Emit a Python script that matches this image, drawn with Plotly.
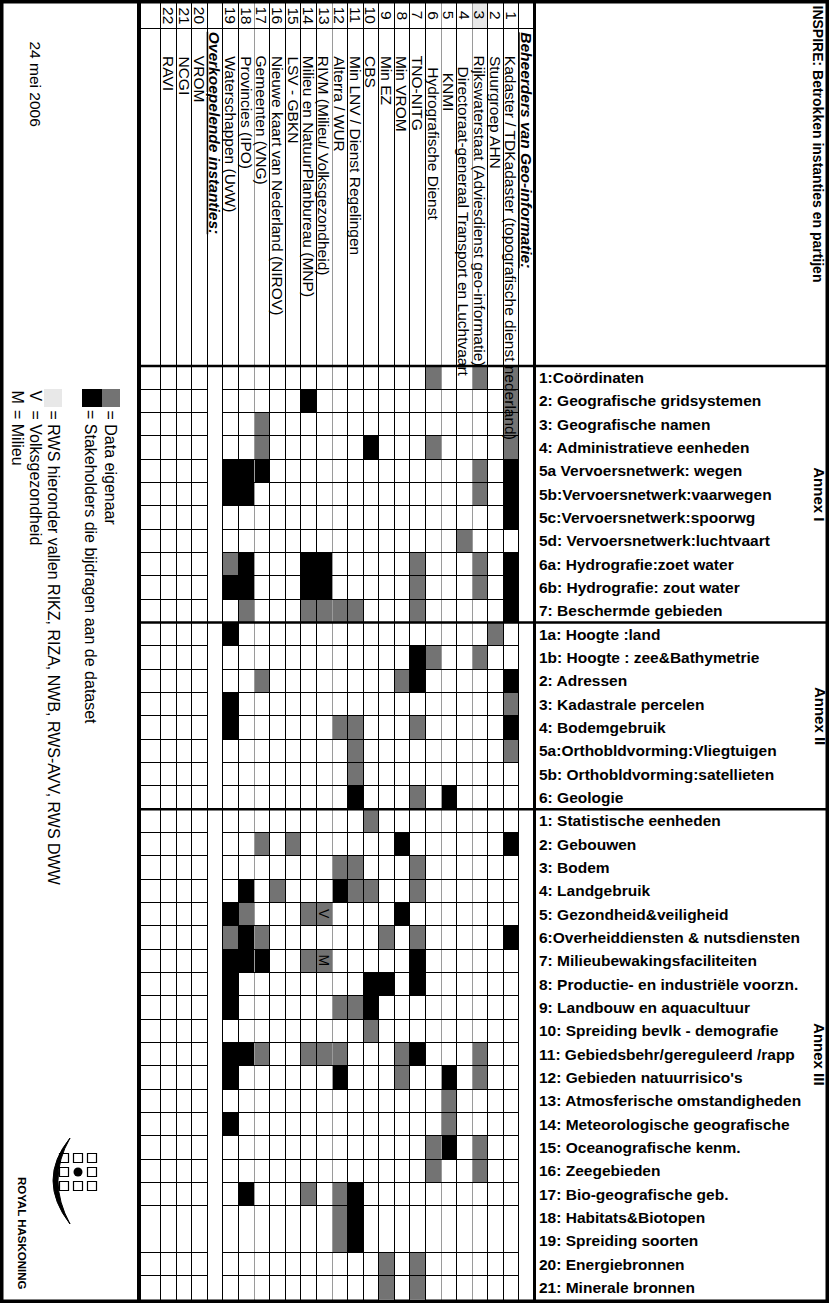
import plotly.graph_objects as go

# ---------------- data ----------------
ORG_NUMBERS = list(range(1, 23))
ORG_NAMES = [
    "Kadaster / TDKadaster (topografische dienst nederland)",
    "Stuurgroep AHN",
    "Rijkswaterstaat (Adviesdienst geo-informatie)",
    "Directoraat-generaal Transport en Luchtvaart",
    "KNMI",
    "Hydrografische Dienst",
    "TNO-NITG",
    "Min VROM",
    "Min EZ",
    "CBS",
    "Min LNV / Dienst Regelingen",
    "Alterra / WUR",
    "RIVM (Milieu/ Volksgezondheid)",
    "Milieu en NatuurPlanbureau (MNP)",
    "LSV - GBKN",
    "Nieuwe kaart van Nederland (NIROV)",
    "Gemeenten (VNG)",
    "Provincies (IPO)",
    "Waterschappen (UvW)",
    "VROM",
    "NCGI",
    "RAVI",
]
GROUP_BEHEERDERS = "Beheerders van Geo-informatie:"
GROUP_OVERKOEPELEND = "Overkoepelende instanties:"
COLUMN_ORDER = ["", 22, 21, 20, GROUP_OVERKOEPELEND, 19, 18, 17, 16, 15, 14, 13, 12,
                11, 10, 9, 8, 7, 6, 5, 4, 3, 2, 1, GROUP_BEHEERDERS]
INDENTED_ORGS = [4, 5, 6]
RWS_ORG = 3

TITLE = "INSPIRE: Betrokken instanties en partijen"
DATE = "24 mei 2006"

ANNEXES = ["Annex I", "Annex II", "Annex III"]
THEMES_ANNEX_I = [
    "1:Coördinaten",
    "2: Geografische gridsystemen",
    "3: Geografische namen",
    "4: Administratieve eenheden",
    "5a Vervoersnetwerk: wegen",
    "5b:Vervoersnetwerk:vaarwegen",
    "5c:Vervoersnetwerk:spoorwg",
    "5d: Vervoersnetwerk:luchtvaart",
    "6a: Hydrografie:zoet water",
    "6b: Hydrografie: zout water",
    "7: Beschermde gebieden",
]
THEMES_ANNEX_II = [
    "1a: Hoogte :land",
    "1b: Hoogte : zee&Bathymetrie",
    "2: Adressen",
    "3: Kadastrale percelen",
    "4: Bodemgebruik",
    "5a:Orthobldvorming:Vliegtuigen",
    "5b: Orthobldvorming:satellieten",
    "6: Geologie",
]
THEMES_ANNEX_III = [
    "1: Statistische eenheden",
    "2: Gebouwen",
    "3: Bodem",
    "4: Landgebruik",
    "5: Gezondheid&veiligheid",
    "6:Overheiddiensten & nutsdiensten",
    "7: Milieubewakingsfaciliteiten",
    "8: Productie- en industriële voorzn.",
    "9: Landbouw en aquacultuur",
    "10: Spreiding bevlk - demografie",
    "11: Gebiedsbehr/gereguleerd /rapp",
    "12: Gebieden natuurrisico's",
    "13: Atmosferische omstandigheden",
    "14: Meteorologische geografische",
    "15: Oceanografische kenm.",
    "16: Zeegebieden",
    "17: Bio-geografische geb.",
    "18: Habitats&Biotopen",
    "19: Spreiding soorten",
    "20: Energiebronnen",
    "21: Minerale bronnen",
]

# organisation numbers with a black cell, per theme (same order as themes)
BLACK = [
    [], [14], [], [10], [19, 18, 17, 1], [19, 18, 1], [1], [],
    [18, 14, 13, 1], [19, 18, 14, 13, 1], [1],
    [19], [7], [7, 1], [19], [19, 1], [], [], [11, 5],
    [], [8, 1], [], [18, 12], [19, 8], [18, 1], [19, 18, 17, 7], [19, 10, 9, 7],
    [19, 10], [], [19, 18, 7], [19, 12, 5], [], [19], [5], [], [18, 11], [11], [11], [], [],
]
# organisation numbers with a grey cell, per theme
GREY = [
    [6, 3, 1], [1], [17, 1], [17, 6, 1], [3], [3], [], [4],
    [19, 7, 3], [7, 3], [18, 14, 13, 12, 11, 7],
    [2], [6, 3], [17, 8], [1], [12, 11, 7], [11, 1], [11], [7],
    [10], [17, 15], [12, 11, 7], [16, 11, 10, 7], [18, 14, 13], [19, 17, 9, 7], [14, 13], [],
    [12, 11], [10], [17, 14, 13, 12, 8, 3], [8, 3], [5], [5], [6, 3], [6, 3], [14, 12], [12], [12], [9, 7], [9, 7],
]
NOTES = [("V", "5: Gezondheid&veiligheid", 13), ("M", "7: Milieubewakingsfaciliteiten", 13)]

LEGEND_ITEMS = [
    "= Data eigenaar",
    "= Stakeholders die bijdragen aan de dataset",
    "= RWS hieronder vallen RIKZ, RIZA, NWB, RWS-AVV, RWS DWW",
]
NOTE_LEGEND = [("V", "= Volksgezondheid"), ("M", "= Milieu")]
LOGO_TEXT = "ROYAL HASKONING"

# ---------------- style / geometry ----------------
W, H = 829, 1303
GREY_C = "#737373"
LIGHT_C = "#e8e8e8"
FONT = "Liberation Sans, Arial, sans-serif"
GRID_X1, GRID_X2 = 160.7, 534.5      # pixel span of columns 1..24
GRID_Y1, GRID_Y2 = 366.0, 1299.0     # pixel span of theme rows

THEMES = THEMES_ANNEX_I + THEMES_ANNEX_II + THEMES_ANNEX_III
NCOL = len(COLUMN_ORDER)
NROW = len(THEMES)
CW = (GRID_X2 - GRID_X1) / (NCOL - 1)
RH = (GRID_Y2 - GRID_Y1) / NROW


def dx(p):
    return 0.5 + (p - GRID_X1) / CW


def dy(p):
    return (p - GRID_Y1) / RH - 0.5


def px(p):
    return p / W


def py(p):
    return 1 - p / H


def snap(p):
    return round(p - 0.5) + 0.5


# ---------------- matrix ----------------
z = [[0] * NCOL for _ in range(NROW)]
for i in range(NROW):
    for n in GREY[i]:
        z[i][COLUMN_ORDER.index(n)] = 1
    for n in BLACK[i]:
        z[i][COLUMN_ORDER.index(n)] = 2

fig = go.Figure()
fig.add_trace(go.Heatmap(
    z=z, x=list(range(NCOL)), y=list(range(NROW)),
    colorscale=[[0, "#ffffff"], [0.5, GREY_C], [1, "#000000"]],
    zmin=0, zmax=2, showscale=False, hoverinfo="skip",
))

shapes = []
annotations = []


def line(x0, y0, x1, y1, color="#000000", width=1, ref="data"):
    r = ("x", "y") if ref == "data" else ("paper", "paper")
    shapes.append(dict(type="line", xref=r[0], yref=r[1], x0=x0, y0=y0, x1=x1, y1=y1,
                       line=dict(color=color, width=width), layer="above"))


def text(t, x, y, size=16, angle=0, xanchor="center", yanchor="middle", ref="data",
         color="#000000", family=FONT):
    annotations.append(dict(
        text=t, x=x, y=y, xref="x" if ref == "data" else "paper", yref="y" if ref == "data" else "paper",
        showarrow=False, textangle=angle, xanchor=xanchor, yanchor=yanchor, borderpad=0,
        font=dict(family=family, size=size, color=color)))


# header light-grey number cell for RWS
k_rws = COLUMN_ORDER.index(RWS_ORG)
shapes.append(dict(type="rect", xref="x", yref="y", x0=k_rws - 0.5, x1=k_rws + 0.5,
                   y0=dy(3), y1=dy(28), fillcolor=LIGHT_C, line=dict(width=0), layer="below"))

# vertical column lines
light_bounds = {7, 12, 19, 21}
for b in range(1, NCOL):
    xp = snap(GRID_X1 + (b - 1) * CW)
    line(dx(xp), dy(2), dx(xp), dy(1300), color="#9a9a9a" if b in light_bounds else "#000000")
# thick line between grid and theme panel
line(dx(GRID_X2), dy(0), dx(GRID_X2), dy(H), width=3)

# horizontal row lines
k_ovk = COLUMN_ORDER.index(GROUP_OVERKOEPELEND)
annex_breaks = [len(THEMES_ANNEX_I), len(THEMES_ANNEX_I) + len(THEMES_ANNEX_II)]
merged = {THEMES.index("19: Spreiding soorten")}
for i in range(1, NROW):
    if i in annex_breaks or i in merged:
        continue
    yp = snap(GRID_Y1 + i * RH)
    line(dx(140), dy(yp), k_ovk - 0.5, dy(yp))
    line(k_ovk + 0.5, dy(yp), NCOL - 1.5, dy(yp))
for i in annex_breaks:
    yp = GRID_Y1 + i * RH
    line(dx(140), dy(yp), dx(W), dy(yp), width=2.5)
line(dx(140), dy(GRID_Y1), dx(W), dy(GRID_Y1), width=2.5)
line(dx(140), dy(28.5), dx(GRID_X2), dy(28.5))

# left panel separator and outer border
line(px(139), 0, px(139), 1, width=4, ref="paper")
shapes.append(dict(type="rect", xref="paper", yref="paper", x0=0, y0=0, x1=1, y1=1,
                   line=dict(color="#000000", width=7), fillcolor="rgba(0,0,0,0)", layer="above"))

# column headers
for k, item in enumerate(COLUMN_ORDER):
    if isinstance(item, int):
        name = ORG_NAMES[ORG_NUMBERS.index(item)]
        start = 66 if item in INDENTED_ORGS else 55
        if item == 5:
            start = 72
        text(str(item), k, dy(15.5), size=15.5, angle=90)
        text(name, k, dy(start), size=15.5, angle=90, yanchor="top")
    elif item:
        text("<b><i><u>" + item + "</u></i></b>", k, dy(31), size=15.5, angle=90, yanchor="top")

# theme labels
for i, t in enumerate(THEMES):
    text("<b>" + t + "</b>", dx(537.5), i, size=15.5, xanchor="left")

# annex labels
starts = [0, len(THEMES_ANNEX_I), len(THEMES_ANNEX_I) + len(THEMES_ANNEX_II)]
sizes = [len(THEMES_ANNEX_I), len(THEMES_ANNEX_II), len(THEMES_ANNEX_III)]
for a, s, n in zip(ANNEXES, starts, sizes):
    text("<b>" + a + "</b>", dx(820), s + (n - 1) / 2, size=15, angle=90)

# V / M notes
for letter, theme, org in NOTES:
    text(letter, COLUMN_ORDER.index(org), THEMES.index(theme), size=14, angle=90)

# title
text("<b>" + TITLE + "</b>", px(818), py(4), size=14, angle=90, yanchor="top", ref="paper")

# left panel: date, legend, logo
text(DATE, px(35), py(40), size=15.5, angle=90, yanchor="top", ref="paper")
legend_boxes = [(102, 120, GREY_C), (82, 102, "#000000"), (44, 62, LIGHT_C)]
for x0, x1, c in legend_boxes:
    shapes.append(dict(type="rect", xref="paper", yref="paper", x0=px(x0), x1=px(x1),
                       y0=py(389), y1=py(407), fillcolor=c, line=dict(width=0), layer="above"))
for t, xc in zip(LEGEND_ITEMS, [110, 91, 53]):
    text(t, px(xc), py(409), size=16, angle=90, yanchor="top", ref="paper")
for (letter, desc), xc in zip(NOTE_LEGEND, [35, 17]):
    text(letter, px(xc), py(389), size=16, angle=90, yanchor="top", ref="paper")
    text(desc, px(xc), py(409), size=16, angle=90, yanchor="top", ref="paper")

text("<b>" + LOGO_TEXT + "</b>", px(22), py(1233), size=11.5, angle=90, ref="paper")
# logo squares with dot
for cx in (64, 78, 92):
    for cy in (1158, 1172, 1186):
        if cx == 78 and cy == 1172:
            shapes.append(dict(type="circle", xref="paper", yref="paper", x0=px(cx - 4.5), x1=px(cx + 4.5),
                               y0=py(cy - 4.5), y1=py(cy + 4.5), fillcolor="#000000", line=dict(width=0)))
        else:
            shapes.append(dict(type="rect", xref="paper", yref="paper", x0=px(cx - 4.5), x1=px(cx + 4.5),
                               y0=py(cy - 4.5), y1=py(cy + 4.5), fillcolor="#ffffff",
                               line=dict(color="#000000", width=1.2)))
crescent = (f"M {px(70)} {py(1138)} Q {px(36)} {py(1180)} {px(70)} {py(1224)} "
            f"Q {px(46)} {py(1180)} {px(70)} {py(1138)} Z")
shapes.append(dict(type="path", xref="paper", yref="paper", path=crescent,
                   fillcolor="#000000", line=dict(color="#000000", width=1)))

fig.update_layout(
    width=W, height=H, margin=dict(l=0, r=0, t=0, b=0),
    paper_bgcolor="#ffffff", plot_bgcolor="#ffffff", showlegend=False,
    xaxis=dict(visible=False, range=[dx(0), dx(W)], domain=[0, 1], fixedrange=True),
    yaxis=dict(visible=False, range=[dy(H), dy(0)], domain=[0, 1], fixedrange=True),
    shapes=shapes, annotations=annotations,
)

fig.write_html("out.html", config={"displayModeBar": False},
               post_script="document.body.style.margin='0';")
